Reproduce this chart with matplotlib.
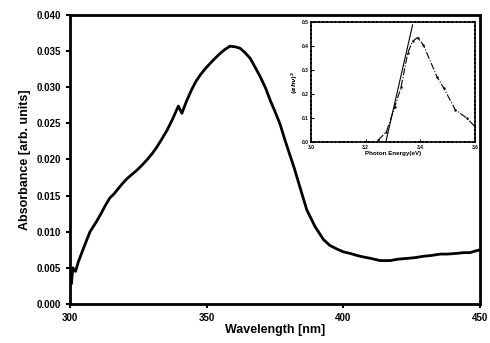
import numpy as np
import matplotlib.pyplot as plt

plt.rcParams['font.family'] = ['Liberation Sans', 'DejaVu Sans']
plt.rcParams['font.weight'] = 'bold'

# main absorbance spectrum
wavelength = [300, 300.5, 301, 302, 303, 305, 307.3, 309.5, 311.6, 313, 314.6, 316, 317.7,
              319, 320.7, 322.5, 324.4, 326, 328, 330, 331.7, 333.5, 335.4, 337.5, 339.6,
              340.9, 342.5, 344.5, 346, 347.6, 349.5, 351.2, 353, 354.9, 356.5, 358.5,
              360.5, 362.2, 364, 365.9, 367.5, 369.5, 371.5, 373.2, 375, 376.8, 378.5,
              380.5, 382, 384.2, 386.6, 389.6, 392.7, 395, 397.6, 400, 402.4, 405, 407.3,
              410, 413.4, 417.1, 420, 423.2, 426, 429.3, 432, 435.4, 438, 441.5, 444,
              446.3, 448, 450]
absorbance = [0.0035, 0.0028, 0.0050, 0.0045, 0.0058, 0.0078, 0.0100, 0.0113, 0.0127, 0.0137,
              0.0147, 0.0152, 0.0160, 0.0166, 0.0173, 0.0179, 0.0185, 0.0191, 0.0199, 0.0208,
              0.0217, 0.0228, 0.0240, 0.0256, 0.0274, 0.0264, 0.0280, 0.0297, 0.0308, 0.0317,
              0.0326, 0.0333, 0.0340, 0.0347, 0.0352, 0.0357, 0.0356, 0.0354, 0.0348, 0.0340,
              0.0329, 0.0315, 0.0299, 0.0282, 0.0266, 0.0249, 0.0228, 0.0205, 0.0188, 0.0160,
              0.0130, 0.0107, 0.0089, 0.0081, 0.0076, 0.0072, 0.0070, 0.0067, 0.0065, 0.0063,
              0.0060, 0.0060, 0.0062, 0.0063, 0.0064, 0.0066, 0.0067, 0.0069, 0.0069, 0.0070,
              0.0071, 0.0071, 0.0073, 0.0075]

# inset: Tauc plot
energy = [3.246, 3.276, 3.306, 3.33, 3.354, 3.372, 3.39, 3.411, 3.462, 3.486, 3.528, 3.57, 3.6]
tauc = [0.008, 0.043, 0.145, 0.23, 0.37, 0.42, 0.435, 0.405, 0.27, 0.225, 0.135, 0.10, 0.065]
fit_x = [3.274, 3.372]
fit_y = [0.001, 0.488]

fig = plt.figure(figsize=(4.9, 3.43), dpi=100)
ax = fig.add_axes([0.143, 0.114, 0.837, 0.842])
ax.plot(wavelength, absorbance, color='black', lw=2)
ax.set_xlim(300, 450)
ax.set_ylim(0, 0.040)
ax.set_xticks([300, 350, 400, 450])
ax.set_yticks(np.arange(0, 0.0401, 0.005))
ax.set_yticklabels(['%.3f' % v for v in np.arange(0, 0.0401, 0.005)])
ax.tick_params(labelsize=7, width=1.5, length=3, direction='out')
for s in ax.spines.values():
    s.set_linewidth(2)
ax.set_xlabel('Wavelength [nm]', fontsize=9, fontweight='bold', labelpad=1)
ax.set_ylabel('Absorbance [arb. units]', fontsize=9, fontweight='bold', labelpad=4)

ins = fig.add_axes([0.635, 0.586, 0.334, 0.35])
ins.plot(energy, tauc, color='black', lw=0.8, ls='-.', marker='.', ms=1.5)
ins.plot(fit_x, fit_y, color='black', lw=0.8)
ins.set_xlim(3.0, 3.6)
ins.set_ylim(0, 0.5)
ins.set_xticks([3.0, 3.2, 3.4, 3.6])
ins.set_yticks([0, 0.1, 0.2, 0.3, 0.4, 0.5])
ins.tick_params(labelsize=3.5, width=0.8, length=2, direction='in', pad=2)
for s in ins.spines.values():
    s.set_linewidth(1.2)
    s.set_linestyle((0, (2, 0.5)))
ins.set_xlabel('Photon Energy(eV)', fontsize=4.5, fontweight='bold', labelpad=1)
ins.set_ylabel('$(\\alpha h\\nu)^2$', fontsize=4.5, labelpad=1)

fig.savefig('out.png', dpi=100)
